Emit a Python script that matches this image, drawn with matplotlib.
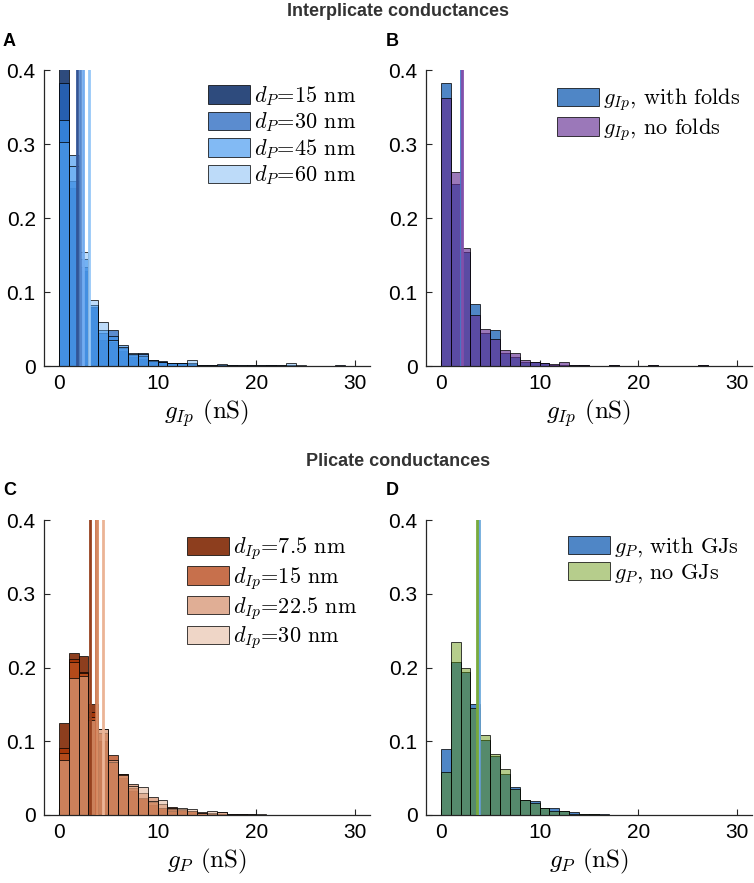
import matplotlib
matplotlib.use("Agg")
import matplotlib.pyplot as plt
import numpy as np

plt.rcParams['font.family'] = ['Liberation Sans', 'DejaVu Sans']
plt.rcParams['mathtext.fontset'] = 'cm'
plt.rcParams['axes.unicode_minus'] = False

# ---------------- data (bin width 1 nS, bins start at 0) ----------------
bin_edges = list(range(0, 31))

# Panel A: interplicate conductance g_Ip for different plicate widths
labels_A = [r'$d_P$=15 nm', r'$d_P$=30 nm', r'$d_P$=45 nm', r'$d_P$=60 nm']
A_dP15 = [0.45, 0.240, 0.129, 0.078, 0.035, 0.032, 0.020, 0.012, 0.009, 0.006,
          0.005, 0.003, 0.003, 0.002, 0.001, 0.000, 0.001, 0.000, 0.000, 0.000,
          0.000, 0.001, 0.000, 0.000, 0.000, 0.000, 0.000, 0.000, 0.001, 0.000]
A_dP30 = [0.382, 0.250, 0.134, 0.080, 0.045, 0.049, 0.025, 0.015, 0.0175, 0.008,
          0.007, 0.0046, 0.004, 0.003, 0.002, 0.001, 0.002, 0.001, 0.000, 0.001,
          0.000, 0.002, 0.001, 0.000, 0.000, 0.000, 0.000, 0.000, 0.000, 0.000]
A_dP45 = [0.332, 0.285, 0.145, 0.083, 0.048, 0.040, 0.028, 0.0175, 0.014, 0.007,
          0.006, 0.004, 0.0046, 0.004, 0.002, 0.001, 0.001, 0.002, 0.001, 0.000,
          0.001, 0.001, 0.000, 0.002, 0.000, 0.000, 0.000, 0.000, 0.000, 0.000]
A_dP60 = [0.303, 0.270, 0.154, 0.089, 0.059, 0.035, 0.026, 0.016, 0.016, 0.008,
          0.006, 0.004, 0.004, 0.008, 0.002, 0.001, 0.003, 0.002, 0.001, 0.001,
          0.001, 0.002, 0.001, 0.004, 0.001, 0.000, 0.000, 0.000, 0.000, 0.000]
means_A = [1.85, 2.15, 2.45, 3.05]

# Panel B: g_Ip with / without folds
labels_B = [r'$g_{Ip}$, with folds', r'$g_{Ip}$, no folds']
B_folds = [0.383, 0.2455, 0.154, 0.084, 0.044, 0.049, 0.018, 0.012, 0.006, 0.005,
           0.004, 0.002, 0.002, 0.001, 0.001, 0.000, 0.000, 0.001, 0.000, 0.000,
           0.000, 0.001, 0.000, 0.000, 0.000, 0.000, 0.001, 0.000, 0.000, 0.000]
B_nofolds = [0.362, 0.262, 0.160, 0.069, 0.0496, 0.036, 0.0215, 0.017, 0.0078, 0.006,
             0.0046, 0.0023, 0.005, 0.002, 0.001, 0.000, 0.000, 0.001, 0.000, 0.000,
             0.000, 0.001, 0.000, 0.000, 0.000, 0.000, 0.001, 0.000, 0.000, 0.000]
means_B = [2.02, 2.14]

# Panel C: plicate conductance g_P for different interplicate distances
labels_C = [r'$d_{Ip}$=7.5 nm', r'$d_{Ip}$=15 nm', r'$d_{Ip}$=22.5 nm', r'$d_{Ip}$=30 nm']
C_d75 = [0.125, 0.220, 0.2156, 0.151, 0.100, 0.072, 0.050, 0.033, 0.022, 0.014,
         0.009, 0.011, 0.006, 0.005, 0.003, 0.002, 0.002, 0.001, 0.001, 0.000,
         0.000, 0.000, 0.000, 0.000, 0.000, 0.000, 0.000, 0.000, 0.000, 0.000]
C_d15 = [0.091, 0.212, 0.194, 0.140, 0.111, 0.081, 0.056, 0.036, 0.0225, 0.017,
         0.009, 0.006, 0.007, 0.005, 0.003, 0.002, 0.002, 0.001, 0.001, 0.000,
         0.000, 0.000, 0.000, 0.000, 0.000, 0.000, 0.000, 0.000, 0.000, 0.000]
C_d225 = [0.084, 0.207, 0.192, 0.133, 0.117, 0.072, 0.055, 0.0415, 0.030, 0.024,
          0.015, 0.008, 0.008, 0.006, 0.004, 0.003, 0.004, 0.002, 0.001, 0.001,
          0.000, 0.000, 0.000, 0.000, 0.000, 0.000, 0.000, 0.000, 0.000, 0.000]
C_d30 = [0.074, 0.186, 0.188, 0.129, 0.117, 0.075, 0.054, 0.040, 0.038, 0.019,
         0.020, 0.009, 0.010, 0.0077, 0.003, 0.006, 0.0045, 0.002, 0.002, 0.001,
         0.001, 0.000, 0.000, 0.000, 0.000, 0.000, 0.000, 0.000, 0.000, 0.000]
means_C = [3.2, 3.72, 3.82, 4.5]

# Panel D: g_P with / without gap junctions
labels_D = [r'$g_P$, with GJs', r'$g_P$, no GJs']
D_gj = [0.089, 0.208, 0.1935, 0.151, 0.1015, 0.080, 0.056, 0.038, 0.020, 0.019,
        0.010, 0.009, 0.005, 0.0045, 0.002, 0.001, 0.001, 0.0005, 0.0005, 0.000,
        0.000, 0.000, 0.000, 0.000, 0.000, 0.000, 0.000, 0.000, 0.000, 0.000]
D_nogj = [0.058, 0.234, 0.200, 0.145, 0.109, 0.0825, 0.062, 0.035, 0.020, 0.016,
          0.010, 0.006, 0.0054, 0.002, 0.002, 0.001, 0.0005, 0.0005, 0.000, 0.000,
          0.000, 0.000, 0.000, 0.000, 0.000, 0.000, 0.000, 0.000, 0.000, 0.000]
means_D = [3.85, 3.71]

# ---------------- styles ----------------
def rgb(r, g, b):
    return (r / 255, g / 255, b / 255)

cols_A = [rgb(28, 60, 114), rgb(36, 102, 192), rgb(60, 147, 239), rgb(92, 167, 242)]
alph_A = [0.92, 0.75, 0.64, 0.40]
line_A = [rgb(50, 85, 150), rgb(85, 135, 205), rgb(115, 172, 240), rgb(150, 200, 248)]

cols_B = [rgb(20, 94, 179), rgb(97, 41, 144)]
alph_B = [0.75, 0.63]
line_B = [rgb(70, 120, 200), rgb(130, 80, 170)]

cols_C = [rgb(129, 41, 5), rgb(176, 51, 0), rgb(195, 95, 45), rgb(226, 178, 149)]
alph_C = [0.90, 0.70, 0.50, 0.52]
line_C = [rgb(150, 65, 30), rgb(200, 110, 70), rgb(215, 140, 100), rgb(235, 180, 150)]

cols_D = [rgb(20, 94, 179), rgb(93, 144, 0)]
alph_D = [0.75, 0.45]
line_D = [rgb(110, 170, 220), rgb(120, 170, 60)]

axcol = '#262626'
serif = ['cmr10', 'DejaVu Serif']

W, H = 754, 883
fig = plt.figure(figsize=(W / 100, H / 100), dpi=100)

def px_axes(x0, x1, ytop, ybot):
    return fig.add_axes([x0 / W, 1 - ybot / H, (x1 - x0) / W, (ybot - ytop) / H])

def draw(ax, series, labels, cols, alphas, means, lcols, xlabel, leg_anchor):
    left = np.array(bin_edges[:-1])
    handles = []
    for vals, lab, c, a in zip(series, labels, cols, alphas):
        h = ax.bar(left, vals, width=1, align='edge', color=(*c, a),
                   edgecolor=(0, 0, 0, 0.75), linewidth=0.7, label=lab, zorder=2)
        handles.append(h)
    for m, lc in zip(means, lcols):
        ax.axvline(m, color=lc, lw=2.0, zorder=3)
    ax.set_xlim(-1.5, 31.5)
    ax.set_ylim(0, 0.4)
    ax.set_xticks([0, 10, 20, 30])
    ax.set_yticks([0, 0.1, 0.2, 0.3, 0.4])
    ax.set_yticklabels(['0', '0.1', '0.2', '0.3', '0.4'])
    for s in ['top', 'right']:
        ax.spines[s].set_visible(False)
    for s in ['left', 'bottom']:
        ax.spines[s].set_color(axcol)
        ax.spines[s].set_linewidth(0.9)
    ax.tick_params(direction='in', length=4, width=0.8, colors=axcol,
                   labelsize=15, labelcolor='black', pad=6)
    ax.set_xlabel(xlabel, fontsize=18, labelpad=3, fontfamily=serif)
    ax.legend(handles=handles, loc='upper left', bbox_to_anchor=leg_anchor,
              frameon=False, prop={'family': serif, 'size': 16},
              handlelength=1.9, handleheight=0.9,
              handletextpad=0.15, labelspacing=0.12, borderpad=0, borderaxespad=0)
    return ax

axA = px_axes(44, 370, 70, 366)
axB = px_axes(426, 752, 70, 366)
axC = px_axes(44, 370, 520, 815)
axD = px_axes(426, 752, 520, 815)

draw(axA, [A_dP15, A_dP30, A_dP45, A_dP60], labels_A, cols_A, alph_A, means_A, line_A,
     r'$g_{Ip}$ (nS)', (0.503, 0.952))
draw(axB, [B_folds, B_nofolds], labels_B, cols_B, alph_B, means_B, line_B,
     r'$g_{Ip}$ (nS)', (0.402, 0.945))
draw(axC, [C_d75, C_d15, C_d225, C_d30], labels_C, cols_C, alph_C, means_C, line_C,
     r'$g_P$ (nS)', (0.439, 0.948))
draw(axD, [D_gj, D_nogj], labels_D, cols_D, alph_D, means_D, line_D,
     r'$g_P$ (nS)', (0.436, 0.948))

fig.text(398 / W, 1 - 12 / H, 'Interplicate conductances', ha='center', va='center',
         fontsize=13, fontweight='bold', color='#333333')
fig.text(398 / W, 1 - 461 / H, 'Plicate conductances', ha='center', va='center',
         fontsize=13, fontweight='bold', color='#333333')
for lab, x, y in [('A', 3, 41), ('B', 386, 41), ('C', 3, 490), ('D', 386, 490)]:
    fig.text(x / W, 1 - y / H, lab, ha='left', va='center', fontsize=13,
             fontweight='bold', color='black')

fig.savefig('out.png', dpi=100)
